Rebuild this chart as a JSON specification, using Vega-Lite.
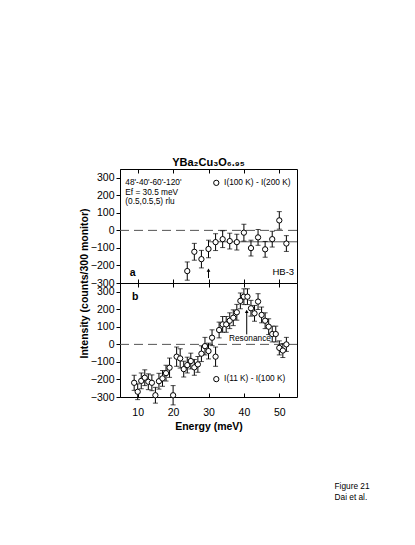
{
  "$schema": "https://vega.github.io/schema/vega-lite/v6.json",
  "background": "white",
  "padding": {"left": 78, "top": 156, "right": 2, "bottom": 2},
  "spacing": 0,
  "bounds": "flush",
  "config": {
    "font": "Liberation Sans",
    "view": {"stroke": "black", "strokeWidth": 1},
    "axis": {"grid": false, "domainColor": "black", "tickColor": "black", "labelColor": "black", "titleColor": "black", "labelFontSize": 10.5, "titleFontSize": 10.5, "titleFontWeight": "bold", "labelFont": "Liberation Sans", "titleFont": "Liberation Sans"},
    "text": {"font": "Liberation Sans", "fontSize": 8.3, "color": "black"}
  },
  "datasets": {
    "a": [
      {"E": 24, "v": -232, "err": 52},
      {"E": 26, "v": -122, "err": 48},
      {"E": 28, "v": -164, "err": 50},
      {"E": 30, "v": -106, "err": 50},
      {"E": 32, "v": -67, "err": 48},
      {"E": 34, "v": -50, "err": 48},
      {"E": 36, "v": -61, "err": 45},
      {"E": 38, "v": -67, "err": 45},
      {"E": 40, "v": -13, "err": 48},
      {"E": 42, "v": -101, "err": 45},
      {"E": 44, "v": -40, "err": 45},
      {"E": 46, "v": -108, "err": 45},
      {"E": 48, "v": -50, "err": 45},
      {"E": 50, "v": 57, "err": 50},
      {"E": 52, "v": -75, "err": 45}
    ],
    "b": [
      {"E": 9, "v": -219, "err": 43},
      {"E": 10, "v": -270, "err": 45},
      {"E": 11, "v": -208, "err": 45},
      {"E": 12, "v": -190, "err": 45},
      {"E": 13, "v": -213, "err": 45},
      {"E": 14, "v": -219, "err": 45},
      {"E": 15, "v": -290, "err": 45},
      {"E": 16, "v": -210, "err": 45},
      {"E": 17, "v": -194, "err": 45},
      {"E": 18, "v": -164, "err": 45},
      {"E": 19, "v": -133, "err": 55},
      {"E": 20, "v": -290, "err": 55},
      {"E": 21, "v": -70, "err": 55},
      {"E": 22, "v": -80, "err": 55},
      {"E": 23, "v": -141, "err": 45},
      {"E": 24, "v": -118, "err": 45},
      {"E": 25, "v": -95, "err": 45},
      {"E": 26, "v": -131, "err": 45},
      {"E": 27, "v": -114, "err": 45},
      {"E": 28, "v": -53, "err": 45},
      {"E": 29, "v": -10, "err": 50},
      {"E": 30, "v": -38, "err": 45},
      {"E": 31, "v": 38, "err": 45},
      {"E": 32, "v": -70, "err": 55},
      {"E": 33, "v": 82, "err": 45},
      {"E": 34, "v": 114, "err": 45},
      {"E": 35, "v": 114, "err": 45},
      {"E": 36, "v": 135, "err": 45},
      {"E": 37, "v": 152, "err": 45},
      {"E": 38, "v": 183, "err": 45},
      {"E": 39, "v": 248, "err": 45},
      {"E": 40, "v": 272, "err": 45},
      {"E": 41, "v": 272, "err": 45},
      {"E": 42, "v": 206, "err": 45},
      {"E": 43, "v": 177, "err": 45},
      {"E": 44, "v": 244, "err": 45},
      {"E": 45, "v": 168, "err": 45},
      {"E": 46, "v": 135, "err": 45},
      {"E": 47, "v": 101, "err": 45},
      {"E": 48, "v": 59, "err": 45},
      {"E": 49, "v": 59, "err": 45},
      {"E": 50, "v": -20, "err": 40},
      {"E": 51, "v": -35, "err": 40},
      {"E": 52, "v": 0, "err": 40}
    ]
  },
  "vconcat": [
    {
      "width": 177,
      "height": 114,
      "title": {"text": "YBa₂Cu₃O₆.₉₅", "fontSize": 11, "fontWeight": "bold", "font": "Liberation Sans", "frame": "group", "anchor": "middle", "offset": 1, "color": "black"},
      "resolve": {"axis": {"x": "independent"}},
      "encoding": {
        "y": {"field": "v", "type": "quantitative", "scale": {"domain": [-300, 350], "nice": false, "zero": false}, "axis": {"orient": "left", "values": [-300, -200, -100, 0, 100, 200, 300], "tickSize": 4, "title": "Intensity (counts/300 monitor)", "titleX": -36, "titleY": 114, "titleBaseline": "middle", "titleAlign": "center", "titleAngle": -90}}
      },
      "layer": [
        {
          "data": {"values": [{"E": 5, "E2": 55, "v": 0}]},
          "mark": {"type": "rule", "strokeDash": [9, 5], "color": "#555", "strokeWidth": 1},
          "encoding": {
            "x": {"field": "E", "type": "quantitative", "scale": {"domain": [5, 55], "nice": false, "zero": false}, "axis": {"orient": "top", "values": [10, 20, 30, 40, 50], "labels": false, "domain": false, "tickSize": -4, "title": null}},
            "x2": {"field": "E2"}
          }
        },
        {
          "data": {"values": [{"E": 30, "E2": 55, "v": -65}]},
          "mark": {"type": "rule", "color": "#555", "strokeWidth": 1},
          "encoding": {
            "x": {"field": "E", "type": "quantitative", "axis": null},
            "x2": {"field": "E2"}
          }
        },
        {
          "data": {"name": "a"},
          "mark": {"type": "errorbar", "ticks": {"size": 5, "color": "black"}, "color": "black", "thickness": 1},
          "encoding": {
            "x": {"field": "E", "type": "quantitative", "axis": {"orient": "bottom", "values": [10, 20, 30, 40, 50], "labels": false, "domain": false, "tickSize": -4, "title": null}},
            "yError": {"field": "err"}
          }
        },
        {
          "data": {"name": "a"},
          "mark": {"type": "point", "shape": "circle", "filled": true, "fill": "white", "stroke": "black", "strokeWidth": 1, "size": 28, "opacity": 1},
          "encoding": {
            "x": {"field": "E", "type": "quantitative", "axis": null}
          }
        },
        {
          "data": {"values": [{"E": 30, "v": -272, "v2": -228}]},
          "mark": {"type": "rule", "color": "black", "strokeWidth": 1},
          "encoding": {
            "x": {"field": "E", "type": "quantitative", "axis": null},
            "y2": {"field": "v2"}
          }
        },
        {
          "data": {"values": [{"E": 30, "v": -226}]},
          "mark": {"type": "point", "shape": "triangle-up", "filled": true, "color": "black", "size": 14, "opacity": 1},
          "encoding": {
            "x": {"field": "E", "type": "quantitative", "axis": null}
          }
        },
        {
          "data": {"values": [{"E": 32.2, "v": 271}]},
          "mark": {"type": "point", "shape": "circle", "filled": true, "fill": "white", "stroke": "black", "strokeWidth": 1, "size": 28, "opacity": 1},
          "encoding": {
            "x": {"field": "E", "type": "quantitative", "axis": null}
          }
        },
        {
          "data": {"values": [
            {"E": 6.5, "v": 271, "label": "48'-40'-60'-120'"},
            {"E": 6.5, "v": 215, "label": "Ef = 30.5 meV"},
            {"E": 6.5, "v": 160, "label": "(0.5,0.5,5) rlu"},
            {"E": 34.4, "v": 271, "label": "I(100 K) - I(200 K)"}
          ]},
          "mark": {"type": "text", "align": "left", "baseline": "middle"},
          "encoding": {
            "x": {"field": "E", "type": "quantitative", "axis": null},
            "text": {"field": "label"}
          }
        },
        {
          "data": {"values": [{"E": 54.2, "v": -240, "label": "HB-3"}]},
          "mark": {"type": "text", "align": "right", "baseline": "middle", "fontSize": 9.5},
          "encoding": {
            "x": {"field": "E", "type": "quantitative", "axis": null},
            "text": {"field": "label"}
          }
        },
        {
          "data": {"values": [{"E": 8.6, "v": -242, "label": "a"}]},
          "mark": {"type": "text", "align": "center", "baseline": "middle", "fontSize": 10.5, "fontWeight": "bold"},
          "encoding": {
            "x": {"field": "E", "type": "quantitative", "axis": null},
            "text": {"field": "label"}
          }
        }
      ]
    },
    {
      "width": 177,
      "height": 114,
      "resolve": {"axis": {"x": "independent"}},
      "encoding": {
        "y": {"field": "v", "type": "quantitative", "scale": {"domain": [-300, 350], "nice": false, "zero": false}, "axis": {"orient": "left", "values": [-300, -200, -100, 0, 100, 200, 300], "tickSize": 4, "title": null}}
      },
      "layer": [
        {
          "data": {"values": [{"E": 5, "E2": 55, "v": 0}]},
          "mark": {"type": "rule", "strokeDash": [9, 5], "color": "#555", "strokeWidth": 1},
          "encoding": {
            "x": {"field": "E", "type": "quantitative", "scale": {"domain": [5, 55], "nice": false, "zero": false}, "axis": {"orient": "top", "values": [10, 20, 30, 40, 50], "labels": false, "domain": false, "tickSize": -4, "title": null}},
            "x2": {"field": "E2"}
          }
        },
        {
          "data": {"name": "b"},
          "mark": {"type": "errorbar", "ticks": {"size": 5, "color": "black"}, "color": "black", "thickness": 1},
          "encoding": {
            "x": {"field": "E", "type": "quantitative", "axis": {"orient": "bottom", "values": [10, 20, 30, 40, 50], "domain": false, "tickSize": -4, "labelPadding": 14, "title": "Energy (meV)", "titlePadding": 4}},
            "yError": {"field": "err"}
          }
        },
        {
          "data": {"name": "b"},
          "mark": {"type": "point", "shape": "circle", "filled": true, "fill": "white", "stroke": "black", "strokeWidth": 1, "size": 28, "opacity": 1},
          "encoding": {
            "x": {"field": "E", "type": "quantitative", "axis": null}
          }
        },
        {
          "data": {"values": [{"E": 40.8, "v": 57, "v2": 185}]},
          "mark": {"type": "rule", "color": "black", "strokeWidth": 1},
          "encoding": {
            "x": {"field": "E", "type": "quantitative", "axis": null},
            "y2": {"field": "v2"}
          }
        },
        {
          "data": {"values": [{"E": 40.8, "v": 188}]},
          "mark": {"type": "point", "shape": "triangle-up", "filled": true, "color": "black", "size": 14, "opacity": 1},
          "encoding": {
            "x": {"field": "E", "type": "quantitative", "axis": null}
          }
        },
        {
          "data": {"values": [{"E": 32.2, "v": -198}]},
          "mark": {"type": "point", "shape": "circle", "filled": true, "fill": "white", "stroke": "black", "strokeWidth": 1, "size": 28, "opacity": 1},
          "encoding": {
            "x": {"field": "E", "type": "quantitative", "axis": null}
          }
        },
        {
          "data": {"values": [
            {"E": 34.4, "v": -198, "label": "I(11 K) - I(100 K)"},
            {"E": 65.6, "v": -812, "label": "Figure 21"},
            {"E": 65.6, "v": -875, "label": "Dai et al."}
          ]},
          "mark": {"type": "text", "align": "left", "baseline": "middle"},
          "encoding": {
            "x": {"field": "E", "type": "quantitative", "axis": null},
            "text": {"field": "label"}
          }
        },
        {
          "data": {"values": [{"E": 41.7, "v": 30, "label": "Resonance"}]},
          "mark": {"type": "text", "align": "center", "baseline": "middle"},
          "encoding": {
            "x": {"field": "E", "type": "quantitative", "axis": null},
            "text": {"field": "label"}
          }
        },
        {
          "data": {"values": [{"E": 9.3, "v": 272, "label": "b"}]},
          "mark": {"type": "text", "align": "center", "baseline": "middle", "fontSize": 10.5, "fontWeight": "bold"},
          "encoding": {
            "x": {"field": "E", "type": "quantitative", "axis": null},
            "text": {"field": "label"}
          }
        }
      ]
    }
  ]
}
